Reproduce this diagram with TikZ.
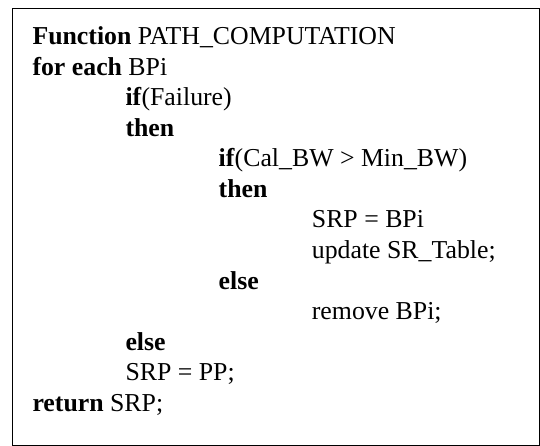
\documentclass[tikz,border=0pt]{standalone}
\usepackage{fontspec}
\setmainfont{Liberation Serif}
\usetikzlibrary{positioning}

\begin{document}
\begin{tikzpicture}[x=1pt,y=-1pt,
codeline/.style={anchor=base west, inner sep=0pt, font=\fontsize{25.8}{30}\selectfont}]
\useasboundingbox (0,0) rectangle (540,446);
\draw [line width=1.4pt] (12.7,8.3) rectangle (539.3,445.3);
% pseudocode, one node per line
\node (fn)      at (32.3,45)    [codeline] {\textbf{Function} PATH\_COMPUTATION};
\node (foreach) at (32.3,75.5)  [codeline] {\textbf{for each} BPi};
\node (iffail)  at (125.3,106)  [codeline] {\textbf{if}(Failure)};
\node (then1)   at (125.3,136.5)[codeline] {\textbf{then}};
\node (ifbw)    at (218.5,167)  [codeline] {\textbf{if}(Cal\_BW > Min\_BW)};
\node (then2)   at (218.5,197.5)[codeline] {\textbf{then}};
\node (srpbpi)  at (311.7,228)  [codeline] {SRP = BPi};
\node (update)  at (311.7,258.5)[codeline] {update SR\_Table;};
\node (else2)   at (218.5,289)  [codeline] {\textbf{else}};
\node (remove)  at (311.7,319.5)[codeline] {remove BPi;};
\node (else1)   at (125.3,350)  [codeline] {\textbf{else}};
\node (srppp)   at (125.3,380.5)[codeline] {SRP = PP;};
\node (ret)     at (32.3,411)   [codeline] {\textbf{return} SRP;};
\end{tikzpicture}
\end{document}
